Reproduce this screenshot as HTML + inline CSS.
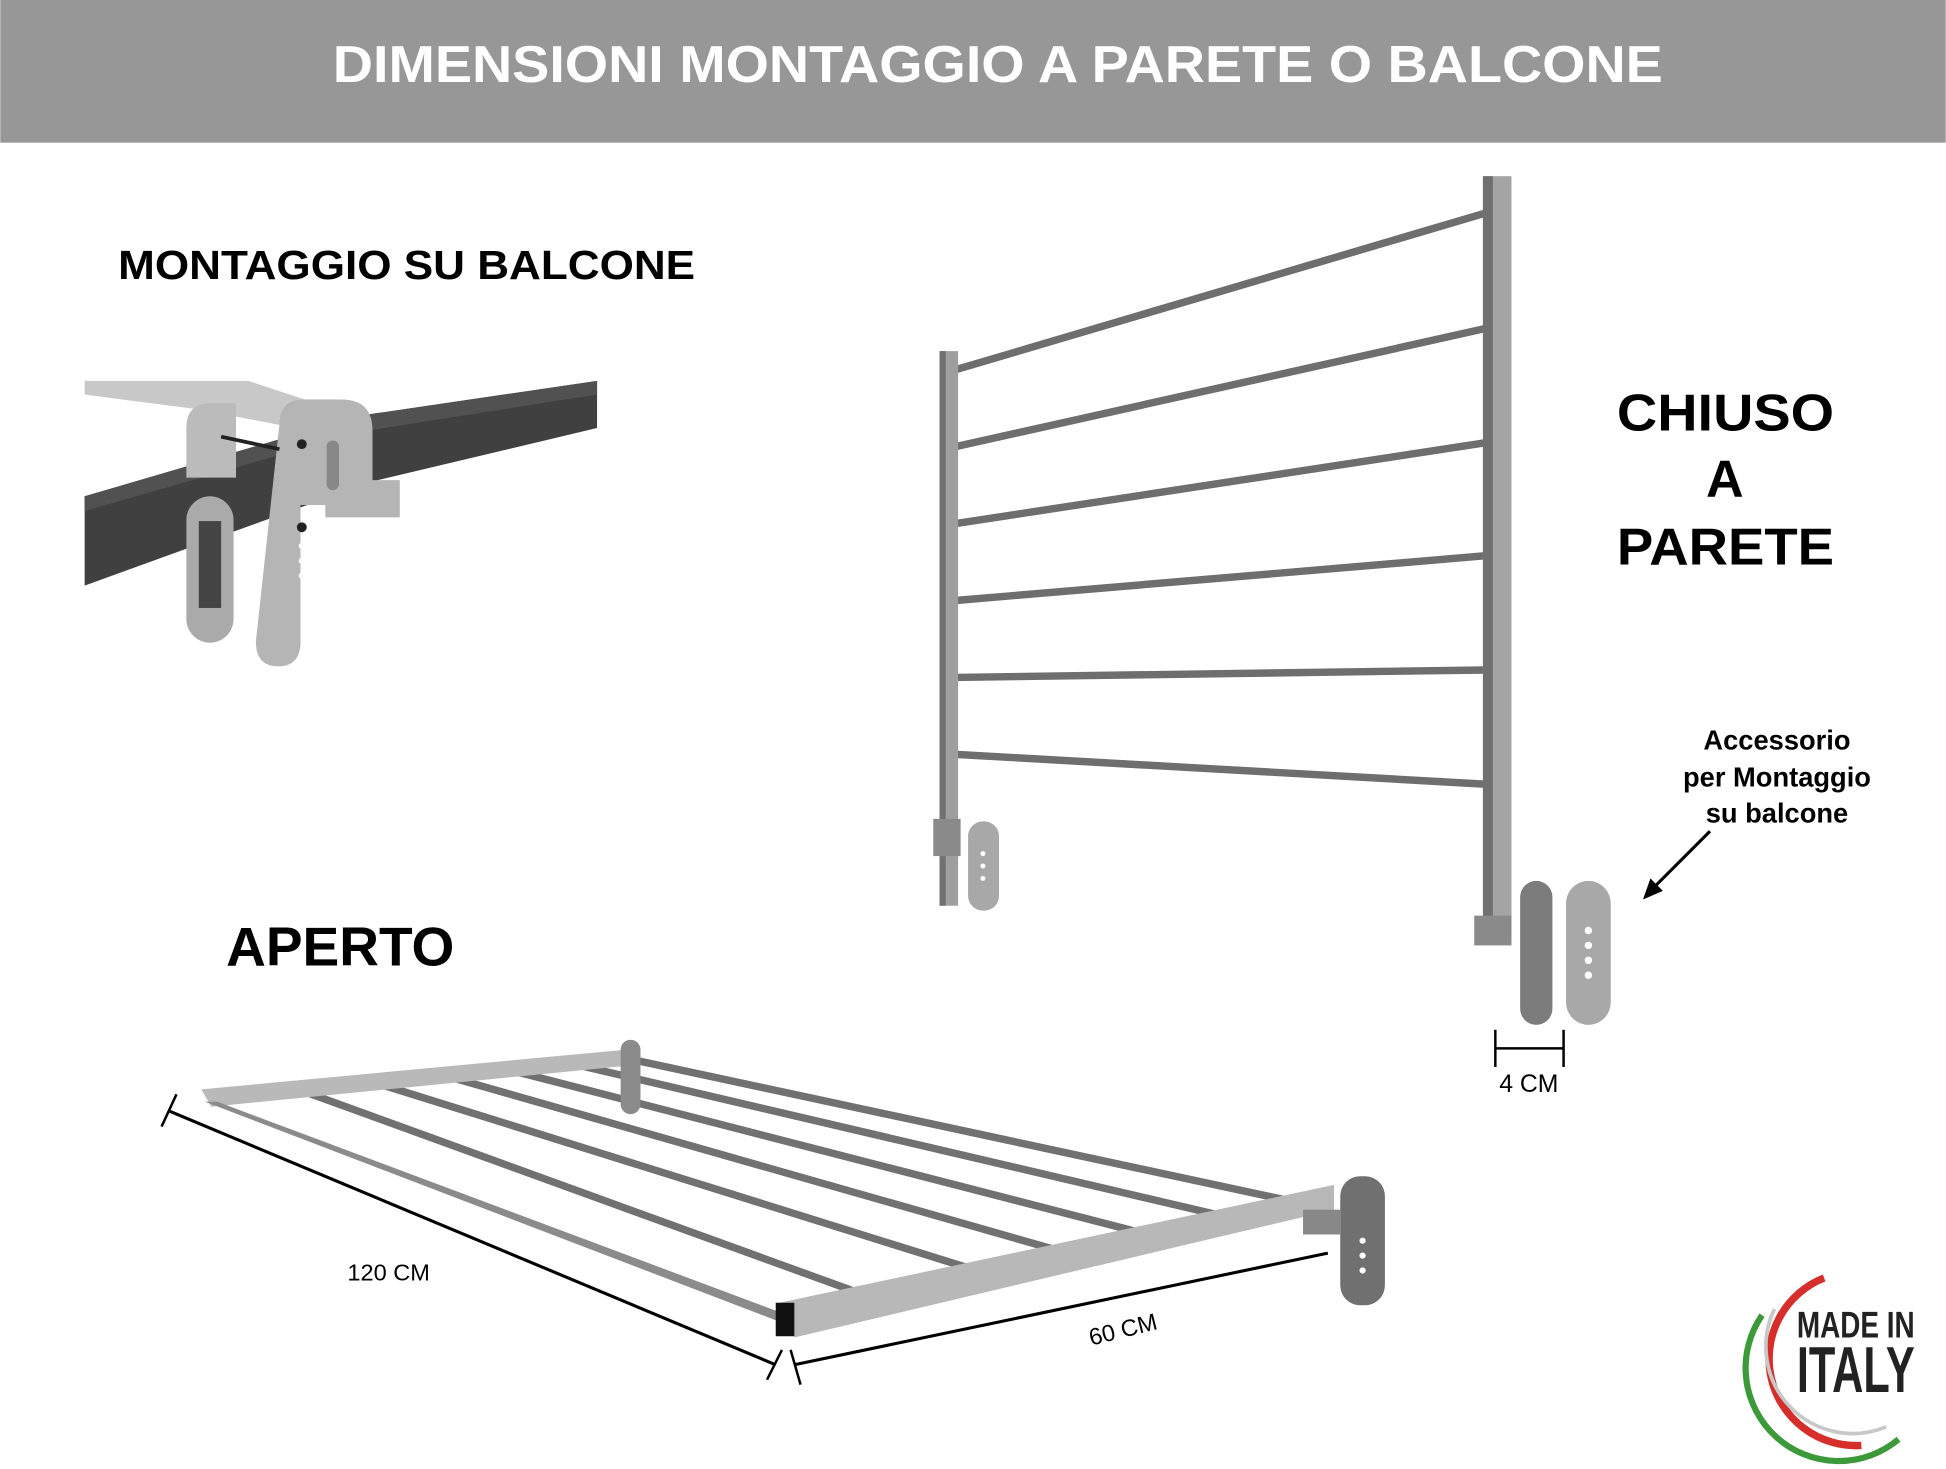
<!DOCTYPE html>
<html><head><meta charset="utf-8"><style>
html,body{margin:0;padding:0;background:#fff;}
svg{display:block;}
text{font-family:"Liberation Sans",Arial,sans-serif;font-weight:bold;}
</style></head><body>
<svg width="1946" height="1469" viewBox="0 0 1568 1184" xmlns="http://www.w3.org/2000/svg">
<rect x="0" y="0" width="1568" height="115" fill="#979797"/>
<text x="268" y="66" font-size="42" fill="#fff" textLength="1072" lengthAdjust="spacingAndGlyphs">DIMENSIONI MONTAGGIO A PARETE O BALCONE</text>

<text x="95" y="225" font-size="33" fill="#000" textLength="465" lengthAdjust="spacingAndGlyphs">MONTAGGIO SU BALCONE</text>
<text x="1303" y="347" font-size="42" fill="#000" textLength="175" lengthAdjust="spacingAndGlyphs">CHIUSO</text>
<text x="1390" y="400" font-size="42" fill="#000" text-anchor="middle">A</text>
<text x="1303" y="455" font-size="42" fill="#000" textLength="175" lengthAdjust="spacingAndGlyphs">PARETE</text>
<text x="182" y="778" font-size="44" fill="#000" textLength="184" lengthAdjust="spacingAndGlyphs">APERTO</text>
<text x="1432" y="604" font-size="22" fill="#000" text-anchor="middle">Accessorio</text>
<text x="1432" y="634" font-size="22" fill="#000" text-anchor="middle">per Montaggio</text>
<text x="1432" y="663" font-size="22" fill="#000" text-anchor="middle">su balcone</text>
<line x1="1378" y1="670" x2="1330" y2="718" stroke="#000" stroke-width="2.5"/>
<polygon points="1324,725 1330,708 1340,718" fill="#000"/>

<!-- balcony detail -->
<polygon points="68,307 200,307 300,340 290,355 160,330 68,318" fill="#c8c8c8"/>
<polygon points="68,400 290,335 481,307 481,345 300,388 68,472" fill="#3f403f"/>
<polygon points="68,400 290,335 481,307 481,318 290,348 68,412" fill="#505150"/>
<rect x="150" y="400" width="38" height="118" rx="19" fill="#aaa"/>
<rect x="160" y="420" width="18" height="70" fill="#444"/>
<path d="M150,345 q0,-20 20,-20 l20,0 l0,60 l-40,0z" fill="#bbb"/>
<path d="M225,342 q0,-20 20,-20 l30,0 q25,0 25,25 l0,40 l22,0 l0,30 l-60,0 l0,-10 l-20,0 l0,110 q0,20 -18,20 q-18,0 -18,-20z" fill="#b4b5b4"/>
<rect x="263" y="355" width="10" height="40" rx="5" fill="#888"/>
<circle cx="243" cy="358" r="4" fill="#222"/>
<circle cx="243" cy="425" r="4" fill="#222"/>
<circle cx="243" cy="440" r="2.5" fill="#fff"/><circle cx="243" cy="452" r="2.5" fill="#fff"/><circle cx="243" cy="464" r="2.5" fill="#fff"/>
<line x1="178" y1="352" x2="225" y2="362" stroke="#222" stroke-width="3"/>

<!-- closed rack -->
<g stroke="#6e6e6e" stroke-width="6" stroke-linecap="round">
<line x1="770" y1="298" x2="1196" y2="172"/>
<line x1="770" y1="360" x2="1196" y2="265"/>
<line x1="770" y1="422" x2="1196" y2="357"/>
<line x1="770" y1="484" x2="1196" y2="448"/>
<line x1="770" y1="546" x2="1196" y2="540"/>
<line x1="770" y1="608" x2="1196" y2="632"/>
</g>
<rect x="757" y="283" width="15" height="447" fill="#9d9e9d"/>
<rect x="757" y="283" width="5" height="447" fill="#6f706f"/>
<rect x="1195" y="142" width="23" height="618" fill="#a3a4a3"/>
<rect x="1195" y="142" width="8" height="618" fill="#6f706f"/>
<rect x="752" y="660" width="22" height="30" fill="#8a8a8a"/>
<rect x="780" y="662" width="25" height="72" rx="12" fill="#a8a8a8"/>
<g fill="#fff"><circle cx="792" cy="688" r="2"/><circle cx="792" cy="698" r="2"/><circle cx="792" cy="708" r="2"/></g>
<rect x="1188" y="738" width="30" height="24" fill="#8a8a8a"/>
<rect x="1225" y="710" width="26" height="116" rx="13" fill="#7b7c7b"/>
<rect x="1262" y="710" width="36" height="116" rx="18" fill="#a8a8a8"/>
<g fill="#fff"><circle cx="1280" cy="750" r="3"/><circle cx="1280" cy="762" r="3"/><circle cx="1280" cy="774" r="3"/><circle cx="1280" cy="786" r="3"/></g>
<line x1="1205" y1="845" x2="1260" y2="845" stroke="#000" stroke-width="2"/>
<line x1="1205" y1="830" x2="1205" y2="860" stroke="#000" stroke-width="2"/>
<line x1="1260" y1="830" x2="1260" y2="860" stroke="#000" stroke-width="2"/>
<text x="1232" y="880" font-size="20" text-anchor="middle" style="font-weight:normal">4 CM</text>

<!-- open rack -->
<g stroke="#707170" stroke-width="6" stroke-linecap="round">
<line x1="240" y1="878" x2="700" y2="1045"/>
<line x1="300" y1="872" x2="790" y2="1025"/>
<line x1="355" y1="866" x2="860" y2="1010"/>
<line x1="405" y1="861" x2="925" y2="995"/>
<line x1="455" y1="856" x2="985" y2="980"/>
<line x1="500" y1="852" x2="1040" y2="968"/>
</g>
<polygon points="162,878 515,845 515,858 170,892" fill="#b8b9b8"/>
<polygon points="165,888 175,888 640,1062 630,1066" fill="#8a8b8a"/>
<polygon points="628,1050 1075,955 1075,975 640,1078" fill="#b7b8b7"/>
<rect x="625" y="1050" width="15" height="27" fill="#111"/>
<rect x="500" y="838" width="16" height="60" rx="8" fill="#8a8b8a"/>
<rect x="1080" y="948" width="36" height="104" rx="16" fill="#6f706f"/>
<rect x="1050" y="975" width="30" height="20" fill="#888"/>
<g fill="#fff"><circle cx="1098" cy="1000" r="2.5"/><circle cx="1098" cy="1012" r="2.5"/><circle cx="1098" cy="1024" r="2.5"/></g>
<line x1="135" y1="895" x2="625" y2="1100" stroke="#000" stroke-width="2.5"/>
<line x1="130" y1="908" x2="142" y2="882" stroke="#000" stroke-width="2"/>
<line x1="618" y1="1112" x2="630" y2="1088" stroke="#000" stroke-width="2"/>
<line x1="640" y1="1100" x2="1070" y2="1010" stroke="#000" stroke-width="2.5"/>
<line x1="637" y1="1088" x2="645" y2="1116" stroke="#000" stroke-width="2"/>
<text x="313" y="1032" font-size="19" text-anchor="middle" style="font-weight:normal">120 CM</text>
<text x="905" y="1078" font-size="19" text-anchor="middle" transform="rotate(-14 905 1072)" style="font-weight:normal">60 CM</text>

<!-- made in italy -->
<path d="M1470,1030 A70,70 0 0 0 1500,1165" fill="none" stroke="#d62e2a" stroke-width="6"/>
<path d="M1420,1060 A75,75 0 0 0 1530,1160" fill="none" stroke="#3d9a3b" stroke-width="5"/>
<path d="M1430,1055 A70,70 0 0 0 1520,1150" fill="none" stroke="#c8c8c8" stroke-width="3"/>
<text x="1448" y="1078" font-size="30" fill="#222" textLength="95" lengthAdjust="spacingAndGlyphs">MADE IN</text>
<text x="1448" y="1122" font-size="52" fill="#222" textLength="95" lengthAdjust="spacingAndGlyphs">ITALY</text>
</svg>
</body></html>
